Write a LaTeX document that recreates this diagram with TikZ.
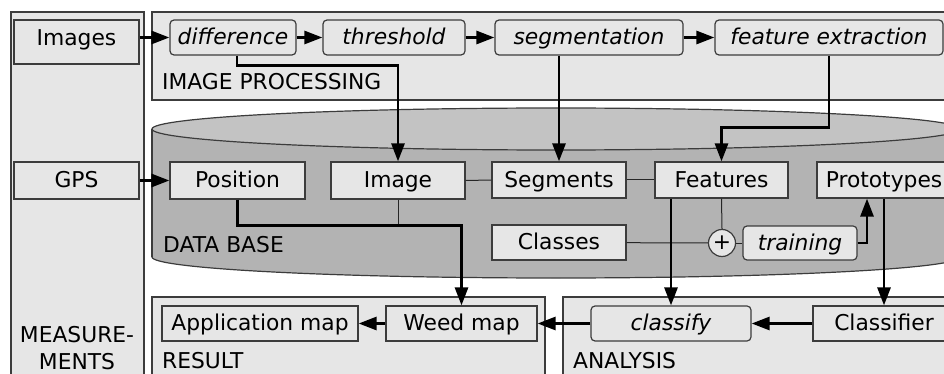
\documentclass[tikz,border=0pt]{standalone}
\usepackage{fontspec}
\setmainfont{DejaVu Sans}
\usetikzlibrary{arrows.meta}
\definecolor{panelfill}{HTML}{E6E6E6}
\definecolor{boxfill}{HTML}{E6E6E6}
\definecolor{cyltop}{HTML}{C3C3C3}
\definecolor{cylbody}{HTML}{B3B3B3}
\definecolor{edge}{HTML}{3C3C3C}
\begin{document}
\begin{tikzpicture}[x=1pt,y=-1pt,
  every node/.style={font=\fontsize{21.8}{27}\selectfont, inner sep=0pt},
  box/.style={draw=edge, fill=boxfill, line width=1.2pt, minimum height=36pt, text height=16pt, text depth=1.5pt},
  proc/.style={box, rounded corners=4pt, font=\fontsize{21.8}{27}\selectfont\itshape},
  panel/.style={draw=edge, fill=panelfill, line width=1.2pt},
  lbl/.style={anchor=west},
  arr/.style={line width=2.8pt, -{Triangle[length=18pt,width=13pt]}},
  link/.style={line width=1pt, draw=black!85}]
\useasboundingbox (0,0) rectangle (944,374);
\clip (0,0) rectangle (944,374);
\fill[white] (0,0) rectangle (944,374);

% panels
\draw[panel] (11,12) rectangle (144,400);
\draw[panel] (152,12) rectangle (1000,100);
\draw[panel] (152,297) rectangle (545,400);
\draw[panel] (563,297) rectangle (1000,400);

% cylinder
\begin{scope}
  \clip (0,257) rectangle (1000,400);
  \draw[draw=edge, fill=cylbody, line width=1.2pt] (556,257) ellipse [x radius=404, y radius=21];
\end{scope}
\fill[cylbody] (152,129) rectangle (960,257);
\draw[draw=edge, line width=1.2pt] (152,129) -- (152,257);
\draw[draw=edge, fill=cyltop, line width=1.2pt] (556,129) ellipse [x radius=404, y radius=21];

% panel labels
\node[lbl] (lip) at (162,82) {IMAGE PROCESSING};
\node[lbl] (ldb) at (163,245) {DATA BASE};
\node[lbl] (lres) at (162,361) {RESULT};
\node[lbl] (lana) at (573,361) {ANALYSIS};
\node[align=center] (lmeas) at (77,348) {MEASURE-\\MENTS};

% image processing nodes
\node[box, minimum width=125pt, minimum height=44pt, text depth=8.5pt] (images) at (76.5,42) {Images};
\node[proc, minimum width=126pt, minimum height=35pt] (difference) at (233,37.5) {difference};
\node[proc, minimum width=142pt, minimum height=35pt] (threshold) at (394,37.5) {threshold};
\node[proc, minimum width=188pt, minimum height=35pt] (segmentation) at (589,37.5) {segmentation};
\node[proc, minimum width=228pt, minimum height=35pt] (fextract) at (829,37.5) {feature extraction};

% data base nodes
\node[box, minimum width=125pt, minimum height=37pt] (gps) at (76.5,180.5) {GPS};
\node[box, minimum width=135pt, minimum height=37pt] (position) at (237.5,180.5) {Position};
\node[box, minimum width=134pt, minimum height=37pt] (image) at (398,180.5) {Image};
\node[box, minimum width=134pt, minimum height=36pt] (segments) at (559,180) {Segments};
\node[box, minimum width=133pt, minimum height=36pt] (features) at (721.5,180) {Features};
\node[box, minimum width=134pt, minimum height=36pt] (prototypes) at (884,180) {Prototypes};
\node[box, minimum width=134pt, minimum height=35pt] (classes) at (559,242.5) {Classes};
\node[proc, minimum width=114pt, minimum height=34pt] (training) at (800,243) {training};
\node[circle, draw=edge, fill=boxfill, line width=1.2pt, minimum size=27pt] (plus) at (722,243) {+};

% result / analysis nodes
\node[box, minimum width=196pt, minimum height=35pt] (appmap) at (260,323.5) {Application map};
\node[box, minimum width=151pt, minimum height=35pt] (weedmap) at (461.5,323.5) {Weed map};
\node[proc, minimum width=160pt, minimum height=35pt] (classify) at (671,323.5) {classify};
\node[box, minimum width=142pt, minimum height=35pt] (classifier) at (884,323.5) {Classifier};

% thin links
\draw[link] (image) -- (segments);
\draw[link] (segments) -- (features);
\draw[link] (features.south) -- (plus.north);
\draw[link] (classes) -- (plus);
\draw[link] (plus) -- (training);
\draw[link] (image.south) -- ++(0,26);

% arrows
\draw[arr] (images.east |- difference.west) -- (difference.west);
\draw[arr] (difference) -- (threshold);
\draw[arr] (threshold) -- (segmentation);
\draw[arr] (segmentation) -- (fextract);
\draw[arr] ([xshift=4pt]difference.south) -- ++(0,10) -| (image.north);
\draw[arr] (segments.north |- segmentation.south) -- (segments.north);
\draw[arr] (fextract.south) -- ++(0,72) -| (features.north);
\draw[arr] (gps) -- (position);
\draw[arr] (position.south) -- ++(0,26) -| (weedmap.north);
\draw[arr] (classify.north |- features.south) -- (classify.north);
\draw[arr] (training.east) -| ([xshift=-17pt]prototypes.south);
\draw[arr] (prototypes.south) -- (classifier.north);
\draw[arr] (classifier) -- (classify);
\draw[arr] (classify) -- (weedmap);
\draw[arr] (weedmap) -- (appmap);
\end{tikzpicture}
\end{document}
